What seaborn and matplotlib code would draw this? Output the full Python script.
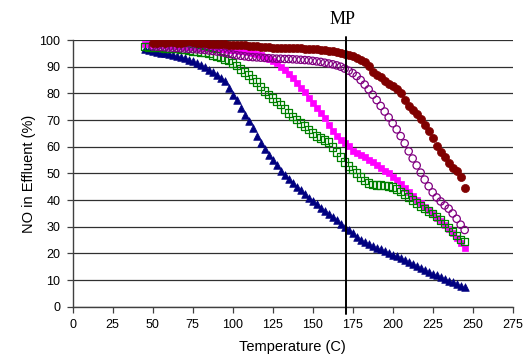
import matplotlib
matplotlib.use("Agg")
import matplotlib.pyplot as plt
import seaborn as sns

# temperature readings (C)
temps = [45, 47.5, 50, 52.5, 55, 57.5, 60, 62.5, 65, 67.5,
         70, 72.5, 75, 77.5, 80, 82.5, 85, 87.5, 90, 92.5,
         95, 97.5, 100, 102.5, 105, 107.5, 110, 112.5, 115, 117.5,
         120, 122.5, 125, 127.5, 130, 132.5, 135, 137.5, 140, 142.5,
         145, 147.5, 150, 152.5, 155, 157.5, 160, 162.5, 165, 167.5,
         170, 172.5, 175, 177.5, 180, 182.5, 185, 187.5, 190, 192.5,
         195, 197.5, 200, 202.5, 205, 207.5, 210, 212.5, 215, 217.5,
         220, 222.5, 225, 227.5, 230, 232.5, 235, 237.5, 240, 242.5,
         245]

# NO in effluent (%) for each run
blue_tri = [96.5, 96.2, 95.9, 95.6, 95.3, 95.0, 94.7, 94.4, 94.0, 93.6,
            93.1, 92.6, 92.1, 91.4, 90.6, 89.8, 88.9, 87.9, 86.8, 85.8,
            84.5, 82.0, 79.5, 77.5, 74.5, 72.0, 69.5, 67.0, 64.2, 61.5,
            59.0, 57.0, 55.0, 53.0, 51.0, 49.3, 47.8, 46.4, 45.1, 43.7,
            42.3, 40.9, 39.6, 38.4, 37.2, 36.0, 34.8, 33.6, 32.4, 31.2,
            30.0, 28.8, 27.5, 26.3, 25.2, 24.3, 23.5, 22.8, 22.2, 21.5,
            20.9, 20.3, 19.6, 19.0, 18.3, 17.6, 16.8, 16.0, 15.3, 14.6,
            13.9, 13.2, 12.5, 11.9, 11.2, 10.5, 9.8, 9.2, 8.6, 8.0,
            7.4]

magenta_sq = [98.5, 98.4, 98.3, 98.2, 98.1, 98.0, 97.9, 97.8, 97.7, 97.6,
              97.5, 97.4, 97.3, 97.2, 97.1, 97.0, 96.9, 96.8, 96.7, 96.6,
              96.5, 96.4, 96.3, 96.2, 96.0, 95.8, 95.5, 95.2, 94.8, 94.4,
              93.8, 93.0, 92.3, 91.3, 90.0, 88.6, 87.2, 85.6, 84.0, 82.2,
              80.4, 78.4, 76.5, 74.6, 72.7, 70.6, 68.3, 66.0, 64.2, 62.6,
              61.3, 60.3, 58.6, 57.6, 56.8, 56.0, 55.1, 54.2, 53.3, 52.2,
              51.1, 50.0, 48.8, 47.5, 46.1, 44.6, 43.1, 41.6, 40.2, 38.9,
              37.6, 36.3, 34.8, 33.4, 32.0, 30.6, 29.2, 27.6, 25.7, 23.9,
              22.2]

green_sq = [97.6, 97.5, 97.4, 97.3, 97.2, 97.1, 97.0, 96.9, 96.8, 96.6,
            96.4, 96.2, 96.0, 95.8, 95.6, 95.3, 94.9, 94.5, 94.1, 93.5,
            92.9, 92.3, 91.5, 90.5, 89.2, 88.0, 86.8, 85.5, 84.2, 82.6,
            81.0, 79.6, 78.3, 77.0, 75.8, 74.2, 72.6, 71.3, 70.2, 69.0,
            67.7, 66.4, 65.2, 64.0, 63.2, 62.6, 61.8, 59.8, 58.0, 56.2,
            54.2, 52.7, 51.5, 50.2, 48.6, 47.3, 46.4, 45.9, 45.7, 45.6,
            45.5, 45.4, 44.9, 44.2, 43.3, 42.3, 41.2, 40.1, 38.9, 37.9,
            36.9, 36.0, 35.0, 33.8, 32.6, 31.2, 29.8, 28.3, 26.7, 25.3,
            24.5]

# these two start at 50 C
purple_circ = [97.6, 97.5, 97.4, 97.3, 97.2, 97.1, 97.0, 96.9,
               96.8, 96.7, 96.6, 96.5, 96.4, 96.3, 96.1, 95.9, 95.7, 95.5,
               95.2, 94.9, 94.6, 94.3, 94.1, 93.9, 93.7, 93.6, 93.5, 93.4,
               93.3, 93.2, 93.1, 93.0, 93.0, 92.9, 92.9, 92.8, 92.7, 92.6,
               92.5, 92.4, 92.2, 92.0, 91.8, 91.5, 91.2, 90.9, 90.5, 90.0,
               89.3, 88.5, 87.6, 86.5, 85.0, 83.3, 81.5, 79.5, 77.5, 75.3,
               73.2, 71.0, 68.8, 66.5, 64.0, 61.3, 58.3, 55.6, 53.0, 50.3,
               47.7, 45.2, 42.9, 41.0, 39.5, 38.0, 36.8, 35.0, 33.0, 30.8,
               28.8]

red_circ = [98.8, 99.0, 99.2, 99.0, 99.1, 99.3, 99.0, 98.9,
            99.2, 99.5, 99.1, 98.9, 98.8, 98.9, 98.6, 98.5, 98.6, 98.4,
            98.4, 98.3, 98.2, 98.1, 98.0, 98.0, 97.9, 97.7, 97.6, 97.5,
            97.5, 97.3, 97.2, 97.1, 97.1, 97.0, 97.0, 96.9, 97.0, 96.9,
            96.8, 96.8, 96.6, 96.5, 96.3, 96.2, 96.0, 95.8, 95.5, 95.2,
            94.8, 94.4, 94.0, 93.4, 92.7, 91.9, 90.2, 88.2, 87.0, 86.0,
            84.8, 83.7, 82.9, 81.5, 80.0, 77.6, 75.3, 73.6, 72.2, 70.3,
            68.3, 65.8, 63.2, 60.2, 58.2, 56.0, 53.8, 52.0, 50.8, 48.5,
            44.5]

mp_temp = 171
x_ticks = [0, 25, 50, 75, 100, 125, 150, 175, 200, 225, 250, 275]
y_ticks = [0, 10, 20, 30, 40, 50, 60, 70, 80, 90, 100]

sns.set_theme(style="white")
plt.rcParams['font.family'] = ['Liberation Sans', 'DejaVu Sans']

fig = plt.figure(figsize=(5.25, 3.64), dpi=100)
ax = fig.add_axes([0.1385, 0.157, 0.838, 0.733])

# gridlines behind the markers
ax.set_axisbelow(True)
ax.yaxis.grid(True, color="#303030", linewidth=0.9)
ax.xaxis.grid(False)

sns.scatterplot(x=temps, y=blue_tri, marker="^", s=30, color="#000080",
                edgecolor="#000080", linewidth=0.5, ax=ax, zorder=3)
sns.scatterplot(x=temps, y=magenta_sq, marker="s", s=24, color="#FF00FF",
                edgecolor="#FF00FF", linewidth=0.5, ax=ax, zorder=3)
sns.scatterplot(x=temps, y=green_sq, marker="s", s=30, facecolors="none",
                edgecolor="#008000", linewidth=0.9, ax=ax, zorder=4)
sns.scatterplot(x=temps[2:], y=purple_circ, marker="o", s=28, facecolors="none",
                edgecolor="#800080", linewidth=0.9, ax=ax, zorder=4)
sns.scatterplot(x=temps[2:], y=red_circ, marker="o", s=34, color="#800000",
                edgecolor="#800000", linewidth=0.5, ax=ax, zorder=5)

# melting point marker
ax.axvline(mp_temp, ymin=-0.027, ymax=1.012, color="black", linewidth=1.4,
           clip_on=False, zorder=6)
ax.text(mp_temp - 2.5, 104.5, "MP", ha="center", va="bottom",
        family="Liberation Serif", fontsize=13, color="black")

ax.set_xlim(0, 275)
ax.set_ylim(0, 100)
ax.set_xticks(x_ticks)
ax.set_yticks(y_ticks)
ax.tick_params(axis="both", which="major", labelsize=9, direction="out",
               length=4, width=0.9, color="#404040", bottom=True, left=True,
               labelcolor="black", pad=5)

for side in ["top", "right"]:
    ax.spines[side].set_visible(False)
for side in ["left", "bottom"]:
    ax.spines[side].set_color("#404040")
    ax.spines[side].set_linewidth(1.0)

ax.set_xlabel("Temperature (C)", fontsize=10.5, color="black", labelpad=6)
ax.set_ylabel("NO in Effluent (%)", fontsize=10.5, color="black", labelpad=2)

fig.savefig("out.png", dpi=100)
